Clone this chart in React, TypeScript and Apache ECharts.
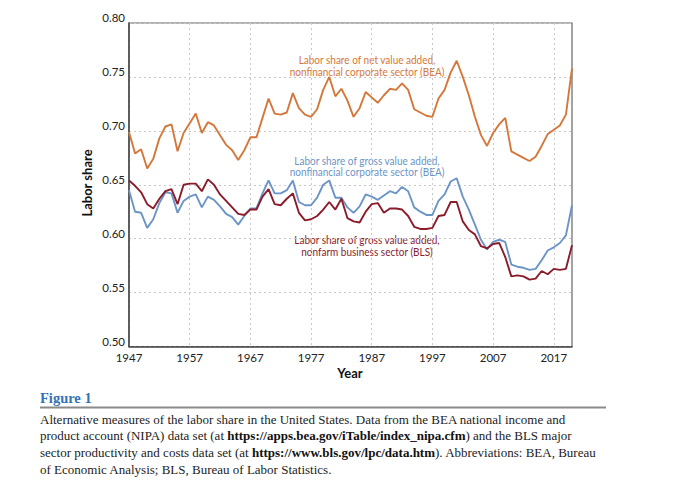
import React, { useEffect, useRef } from "react";
import * as echarts from "echarts";

const years: string[] = [];
for (let y = 1947; y <= 2020; y++) years.push(String(y));

// Labor share of net value added, nonfinancial corporate sector (BEA)
const netNonfin = [
  0.699, 0.679, 0.683, 0.665, 0.674, 0.693, 0.704, 0.706, 0.681, 0.698, // 1947-56
  0.707, 0.716, 0.698, 0.708, 0.705, 0.696, 0.687, 0.682, 0.673, 0.682, // 1957-66
  0.694, 0.694, 0.712, 0.730, 0.716, 0.715, 0.717, 0.735, 0.721, 0.715, // 1967-76
  0.713, 0.720, 0.738, 0.750, 0.732, 0.739, 0.728, 0.713, 0.721, 0.736, // 1977-86
  0.731, 0.726, 0.733, 0.739, 0.738, 0.744, 0.738, 0.720, 0.717, 0.714, // 1987-96
  0.713, 0.730, 0.738, 0.754, 0.765, 0.750, 0.733, 0.713, 0.696, 0.686, // 1997-2006
  0.698, 0.706, 0.712, 0.681, 0.678, 0.675, 0.672, 0.676, 0.686, 0.697, // 2007-16
  0.701, 0.705, 0.715, 0.758, // 2017-20
];

// Labor share of gross value added, nonfinancial corporate sector (BEA)
const grossNonfin = [
  0.645, 0.625, 0.624, 0.610, 0.618, 0.633, 0.643, 0.642, 0.624, 0.635,
  0.639, 0.641, 0.629, 0.639, 0.636, 0.630, 0.623, 0.620, 0.613, 0.621,
  0.628, 0.628, 0.642, 0.654, 0.642, 0.642, 0.645, 0.654, 0.634, 0.631,
  0.631, 0.638, 0.650, 0.654, 0.638, 0.638, 0.629, 0.624, 0.630, 0.641,
  0.639, 0.636, 0.640, 0.644, 0.642, 0.648, 0.644, 0.629, 0.625, 0.622,
  0.622, 0.635, 0.641, 0.653, 0.656, 0.639, 0.627, 0.613, 0.599, 0.590,
  0.597, 0.599, 0.597, 0.576, 0.574, 0.573, 0.571, 0.572, 0.580, 0.589,
  0.592, 0.596, 0.603, 0.631,
];

// Labor share of gross value added, nonfarm business sector (BLS)
const grossNonfarm = [
  0.654, 0.649, 0.643, 0.632, 0.628, 0.637, 0.644, 0.646, 0.632, 0.650,
  0.651, 0.651, 0.644, 0.655, 0.650, 0.641, 0.635, 0.629, 0.623, 0.622,
  0.627, 0.627, 0.639, 0.646, 0.632, 0.631, 0.637, 0.642, 0.624, 0.617,
  0.618, 0.621, 0.627, 0.634, 0.627, 0.637, 0.619, 0.616, 0.615, 0.625,
  0.632, 0.633, 0.624, 0.628, 0.628, 0.627, 0.621, 0.611, 0.609, 0.609,
  0.610, 0.621, 0.622, 0.634, 0.634, 0.616, 0.608, 0.604, 0.593, 0.591,
  0.595, 0.596, 0.583, 0.565, 0.566, 0.565, 0.562, 0.563, 0.570, 0.567,
  0.572, 0.571, 0.572, 0.594,
];

const ORANGE = "#d4773a";
const BLUE = "#6b95c6";
const RED = "#8a1c2c";
const SANS = "Lato, 'Noto Sans', sans-serif";
const SERIF = "'Liberation Serif', 'DejaVu Serif', serif";

export default function App() {
  const ref = useRef<HTMLDivElement>(null);
  useEffect(() => {
    if (!ref.current) return;
    const chart = echarts.init(ref.current, undefined, { renderer: "svg" });
    const line = (name: string, data: number[], color: string) => ({
      name,
      type: "line",
      data,
      symbol: "none",
      lineStyle: { color, width: 1.9 },
      itemStyle: { color },
      z: 3,
    });
    const annot = (x: number, y: number, text: string, color: string) => ({
      type: "text",
      x,
      y,
      scaleX: 0.87,
      scaleY: 1,
      style: {
        text,
        fill: color,
        font: `11.5px ${SANS}`,
        textAlign: "center",
        textVerticalAlign: "middle",
        lineHeight: 11.5,
      },
    });
    const caption = (y: number, text: string) => ({
      type: "text",
      x: 40,
      y,
      style: {
        text,
        fill: "#222",
        font: `13px ${SERIF}`,
        textVerticalAlign: "middle",
        rich: {
          n: { fontFamily: SERIF, fontSize: 13, fill: "#222", color: "#222" },
          b: { fontFamily: SERIF, fontSize: 13, fontWeight: "bold", fill: "#111", color: "#111" },
        },
      },
    });
    chart.setOption({
      animation: false,
      backgroundColor: "#fff",
      grid: {
        left: 129,
        top: 23,
        width: 443,
        height: 323.5,
        show: true,
        borderColor: "#666",
        borderWidth: 1.2,
        containLabel: false,
      },
      xAxis: {
        type: "category",
        data: years,
        boundaryGap: false,
        axisLine: { show: true, lineStyle: { color: "#444", width: 1.5 } },
        axisTick: { show: false },
        axisLabel: {
          interval: 9,
          color: "#222",
          fontFamily: SANS,
          fontSize: 11.5,
          margin: 5,
        },
        splitLine: {
          show: true,
          interval: 9,
          lineStyle: { color: "#c8c8c8", type: [2, 3], width: 1 },
        },
      },
      yAxis: {
        type: "value",
        min: 0.5,
        max: 0.8,
        interval: 0.05,
        axisLine: { show: true, lineStyle: { color: "#444", width: 1.5 } },
        axisTick: { show: false },
        axisLabel: {
          color: "#222",
          fontFamily: SANS,
          fontSize: 11.5,
          margin: 4,
          verticalAlign: "bottom",
          lineHeight: 11,
          formatter: (v: number) => v.toFixed(2),
        },
        splitLine: {
          show: true,
          lineStyle: { color: "#c8c8c8", type: [2, 3], width: 1 },
        },
      },
      series: [
        line("Labor share of net value added, nonfinancial corporate sector (BEA)", netNonfin, ORANGE),
        line("Labor share of gross value added, nonfinancial corporate sector (BEA)", grossNonfin, BLUE),
        line("Labor share of gross value added, nonfarm business sector (BLS)", grossNonfarm, RED),
      ],
      graphic: [
        annot(367, 65, "Labor share of net value added,\nnonfinancial corporate sector (BEA)", ORANGE),
        annot(367, 165.5, "Labor share of gross value added,\nnonfinancial corporate sector (BEA)", BLUE),
        annot(367, 245, "Labor share of gross value added,\nnonfarm business sector (BLS)", RED),
        {
          type: "text",
          x: 87,
          y: 183,
          rotation: Math.PI / 2,
          style: {
            text: "Labor share",
            fill: "#111",
            font: `bold 13px ${SANS}`,
            textAlign: "center",
            textVerticalAlign: "middle",
          },
        },
        {
          type: "text",
          x: 350,
          y: 373,
          style: {
            text: "Year",
            fill: "#111",
            font: `bold 13px ${SANS}`,
            textAlign: "center",
            textVerticalAlign: "middle",
          },
        },
        {
          type: "text",
          x: 40,
          y: 398,
          style: {
            text: "Figure 1",
            fill: "#3573b5",
            font: `bold 14.5px ${SERIF}`,
            textVerticalAlign: "middle",
          },
        },
        {
          type: "line",
          shape: { x1: 40, y1: 407.5, x2: 606, y2: 407.5 },
          style: { stroke: "#8a8a8a", lineWidth: 2 },
        },
        caption(419, "{n|Alternative measures of the labor share in the United States. Data from the BEA national income and}"),
        caption(435.8, "{n|product account (NIPA) data set (at }{b|https://apps.bea.gov/iTable/index_nipa.cfm}{n|) and the BLS major}"),
        caption(452.6, "{n|sector productivity and costs data set (at }{b|https://www.bls.gov/lpc/data.htm}{n|). Abbreviations: BEA, Bureau}"),
        caption(469.4, "{n|of Economic Analysis; BLS, Bureau of Labor Statistics.}"),
      ],
    });
    return () => chart.dispose();
  }, []);
  return (
    <div
      ref={ref}
      style={{ position: "fixed", left: 0, top: 0, width: 680, height: 483, background: "#fff" }}
    />
  );
}
